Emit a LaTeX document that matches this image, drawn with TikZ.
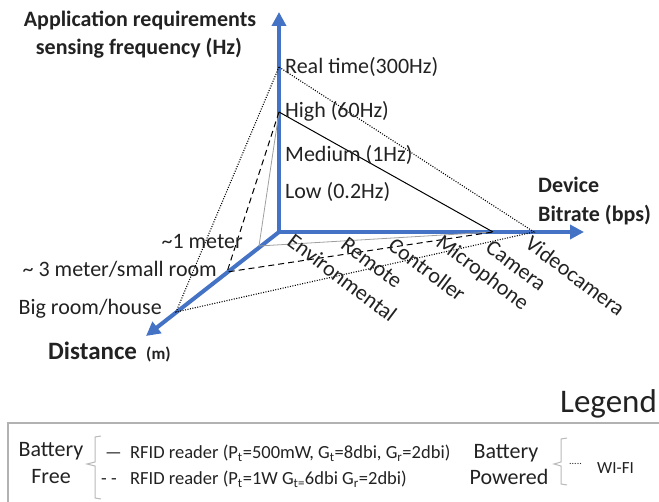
\documentclass[tikz,border=0pt]{standalone}
\usepackage{fontspec}
\setmainfont{Carlito}
\usetikzlibrary{arrows.meta}
\definecolor{axisblue}{RGB}{68,114,196}
\definecolor{ink}{RGB}{34,34,34}
\begin{document}
\begin{tikzpicture}[x=1pt,y=-1pt,
  axis/.style={axisblue,line width=4pt,-{Triangle[length=14pt,width=14pt]}},
  txt/.style={font=\fontsize{22}{24}\selectfont,text=ink,inner sep=0pt},
  bold/.style={font=\fontsize{22}{24}\selectfont\bfseries,text=ink,inner sep=0pt},
  device/.style={txt,anchor=north west,rotate=-37},
  small/.style={font=\fontsize{18.5}{20}\selectfont,text=ink,inner sep=0pt},
  thinsolid/.style={draw=gray!75,line width=0.8pt},
  solidline/.style={draw=black,line width=1pt},
  dashedline/.style={draw=black,line width=1pt,dash pattern=on 6pt off 4pt},
  dottedline/.style={draw=black,line width=1.1pt,dash pattern=on 1pt off 1.5pt},
  bracket/.style={draw=gray!55,line width=1pt},
  legendbox/.style={draw=gray!60,line width=1.2pt}
]
\useasboundingbox (0,0) rectangle (659,502);

% axis origin and tips
\coordinate (O) at (279,232);
\coordinate (vtip) at (279,12);
\coordinate (htip) at (584,232);
\coordinate (dtip) at (146,336);

% points on the axes
\coordinate (rt) at (279,67);
\coordinate (hi) at (279,112);
\coordinate (m1) at (259,246);
\coordinate (m3) at (227,272);
\coordinate (big) at (176,312);
\coordinate (cam) at (493,232);
\coordinate (vid) at (534,232);

% axes
\draw[axis] (O) -- (vtip);
\draw[axis] (O) -- (htip);
\draw[axis] (O) -- (dtip);

% link triangles
\draw[thinsolid] (hi) -- (m1) -- (cam);
\draw[solidline] (hi) -- (cam);
\draw[dashedline] (hi) -- (m3) -- (cam);
\draw[dottedline] (rt) -- (big) -- (vid) -- cycle;

% axis titles
\node[bold,anchor=base] (ytitle1) at (140,27) {Application requirements};
\node[bold,anchor=base] (ytitle2) at (139,55) {sensing frequency (Hz)};
\node[bold,anchor=base west] (xtitle1) at (538,193) {Device};
\node[bold,anchor=base west] (xtitle2) at (538,222) {Bitrate (bps)};
\node[font=\fontsize{25}{27}\selectfont\bfseries,text=ink,inner sep=0pt,anchor=base west] (ztitle) at (48,360) {Distance};
\node[font=\fontsize{17}{19}\selectfont\bfseries,text=ink,inner sep=0pt,anchor=base west] (zunit) at (146,360) {(m)};

% frequency levels
\node[txt,anchor=base west] (lrt) at (285,74) {Real time(300Hz)};
\node[txt,anchor=base west] (lhi) at (285,118) {High (60Hz)};
\node[txt,anchor=base west] (lmed) at (285,162) {Medium (1Hz)};
\node[txt,anchor=base west] (llow) at (285,199) {Low (0.2Hz)};

% distance levels
\node[txt,anchor=base east] (lm1) at (243,249) {\textasciitilde1 meter};
\node[txt,anchor=base east] (lm3) at (217,277) {\textasciitilde\ 3 meter/small room};
\node[txt,anchor=base east] (lbig) at (162,315) {Big room/house};

% devices
\node[device] (denv) at (295,232) {Environmental};
\node[device] (drem) at (348,236) {Remote};
\node[device] (dctl) at (396,236) {Controller};
\node[device] (dmic) at (444,233) {Microphone};
\node[device] (dcam) at (493,239) {Camera};
\node[device] (dvid) at (533,234) {Videocamera};

% legend
\node[font=\fontsize{33}{35}\selectfont,text=ink,inner sep=0pt,anchor=base west] (legtitle) at (560,413) {Legend};
\draw[legendbox] (670,423) -- (8,423) -- (8,512) -- (670,512);

\node[txt,anchor=base] (bf1) at (51,457) {Battery};
\node[txt,anchor=base] (bf2) at (51,484) {Free};
\draw[bracket] (101,436) -- (95,437) -- (95,462) -- (87,464) -- (95,466) -- (95,498) -- (101,499);
\node[small,anchor=base west] (s1) at (105,459) {—};
\node[small,anchor=base west] (r1) at (130,459) {RFID reader (P\textsubscript{t}=500mW, G\textsubscript{t}=8dbi, G\textsubscript{r}=2dbi)};
\node[small,anchor=base west] (s2) at (101,485) {- -};
\node[small,anchor=base west] (r2) at (130,485) {RFID reader (P\textsubscript{t}=1W G\textsubscript{t=}6dbi G\textsubscript{r}=2dbi)};

\node[txt,anchor=base] (bp1) at (506,459) {Battery};
\node[txt,anchor=base] (bp2) at (509,485) {Powered};
\draw[bracket] (567,438) -- (561,439) -- (561,462) -- (554,464) -- (561,466) -- (561,484) -- (567,485);
\node[font=\fontsize{10}{12}\selectfont,text=ink,inner sep=0pt,anchor=base west] (s3) at (569,465) {.....};
\node[font=\fontsize{17}{19}\selectfont,text=ink,inner sep=0pt,anchor=base west] (wifi) at (597,474) {WI-FI};
\end{tikzpicture}
\end{document}
